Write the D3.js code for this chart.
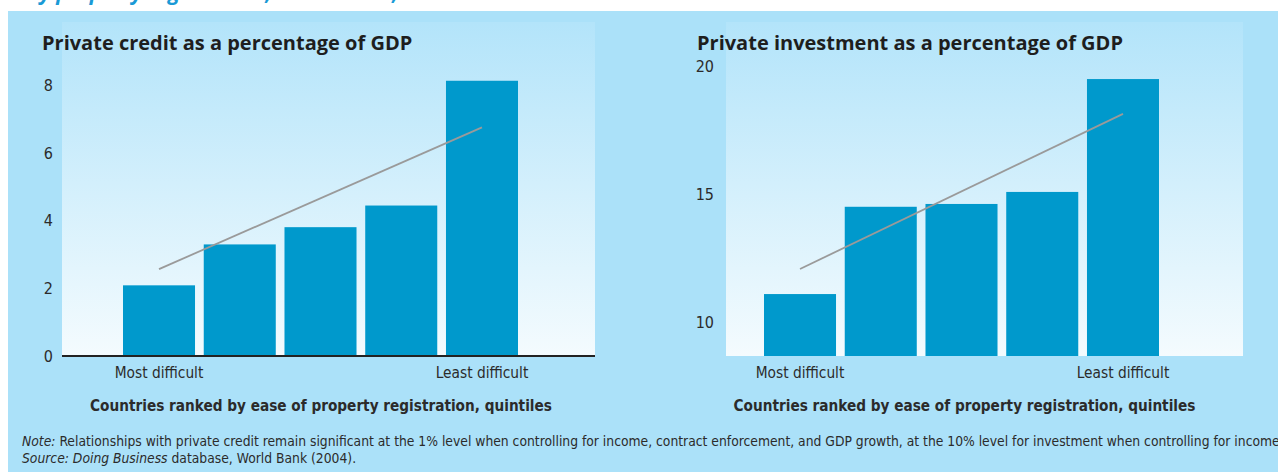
<!DOCTYPE html>
<html><head><meta charset="utf-8">
<script src="https://cdn.jsdelivr.net/npm/d3@7"></script>
<style>
html,body{margin:0;padding:0;background:#fff;}
svg{display:block;}
.lbl{font-family:"DejaVu Sans Condensed","DejaVu Sans";font-stretch:condensed;fill:#2b2b2b;}
.ttl{font-family:"Open Sans","Noto Sans";font-weight:700;fill:#1e1e1e;}
</style></head>
<body>
<script>
// ---- data ----
const quintiles = ["Q1","Q2","Q3","Q4","Q5"];
const quintileLabels = {Q1:"Most difficult", Q5:"Least difficult"};
const creditValues = [2.09, 3.30, 3.81, 4.45, 8.14];
const creditTrend = [2.57, 6.76];
const creditTicks = [0, 2, 4, 6, 8];
const investValues = [11.09, 14.50, 14.61, 15.08, 19.49];
const investTrend = [12.07, 18.13];
const investTicks = [10, 15, 20];
const investBase = 8.67;
const titles = ["Private credit as a percentage of GDP", "Private investment as a percentage of GDP"];
const xAxisTitle = "Countries ranked by ease of property registration, quintiles";
const figureTitle = "Easy property registration, more credit, more investment";

const W = 1278, H = 472;
const svg = d3.select("body").append("svg").attr("width", W).attr("height", H);
const defs = svg.append("defs");
const grad = defs.append("linearGradient").attr("id","pg").attr("x1",0).attr("y1",0).attr("x2",0).attr("y2",1);
grad.append("stop").attr("offset","0%").attr("stop-color","#b3e4fa");
grad.append("stop").attr("offset","100%").attr("stop-color","#f4fbfe");
defs.append("clipPath").attr("id","topclip").append("rect").attr("x",0).attr("y",0).attr("width",W).attr("height",11);

// cut-off figure title
svg.append("text").attr("clip-path","url(#topclip)")
  .attr("x", 6).attr("y", 0)
  .attr("font-family","Open Sans").attr("font-weight",700).attr("font-style","italic")
  .attr("font-size",21).attr("fill","#1a9ad6").text(figureTitle);

// background
svg.append("rect").attr("x",8).attr("y",11).attr("width",W-8).attr("height",H-11).attr("fill","#abe1f9");

function panel(cfg){
  const g = svg.append("g");
  g.append("rect").attr("x",cfg.px0).attr("y",22).attr("width",cfg.px1-cfg.px0).attr("height",356-22).attr("fill","url(#pg)");
  const x = d3.scaleBand().domain(quintiles).range(cfg.xr).paddingInner(0.108).paddingOuter(0);
  const y = d3.scaleLinear().domain(cfg.yd).range(cfg.yr);
  const base = cfg.yd[0];
  g.selectAll("rect.bar").data(cfg.values).join("rect").attr("class","bar")
    .attr("x",(d,i)=>x(quintiles[i])).attr("width",x.bandwidth())
    .attr("y",d=>y(d)).attr("height",d=>y(base)-y(d)).attr("fill","#0099cc");
  const trendPts = [[quintiles[0],cfg.trend[0]],[quintiles[4],cfg.trend[1]]];
  g.append("path").attr("d", d3.line().x(d=>x(d[0])+x.bandwidth()/2).y(d=>y(d[1]))(trendPts))
    .attr("stroke","#9a9a9a").attr("stroke-width",1.8).attr("fill","none");
  if(cfg.axisLine){
    g.append("line").attr("x1",cfg.px0).attr("x2",cfg.px1).attr("y1",y(base)).attr("y2",y(base))
      .attr("stroke","#222").attr("stroke-width",2.2);
  }
  const ya = g.append("g").attr("transform",`translate(${cfg.tickX},0)`)
    .call(d3.axisLeft(y).tickValues(cfg.ticks).tickSize(0).tickPadding(0).tickFormat(d3.format("d")));
  ya.select(".domain").remove();
  ya.selectAll("text").attr("class","lbl").attr("font-size",16).attr("font-family",null).attr("fill","#2b2b2b");
  const xa = g.append("g").attr("transform",`translate(0,${y(base)})`)
    .call(d3.axisBottom(x).tickSize(0).tickPadding(0).tickFormat(d=>quintileLabels[d]||""));
  xa.select(".domain").remove();
  xa.selectAll("text").attr("class","lbl").attr("font-size",15.3).attr("font-family",null).attr("dy",null).attr("y",22).attr("fill","#2b2b2b");
  g.append("text").attr("class","lbl").attr("x",(cfg.xr[0]+cfg.xr[1])/2 - cfg.titleShift).attr("y",411)
    .attr("text-anchor","middle").attr("font-size",15.2).attr("font-weight",700).attr("fill","#1e1e1e").text(xAxisTitle);
  g.append("text").attr("class","ttl").attr("x",cfg.titleX).attr("y",50).attr("font-size",20).text(cfg.title);
}

panel({px0:62, px1:595, xr:[123,518], yd:[0,8], yr:[356,85.5], values:creditValues, trend:creditTrend,
  ticks:creditTicks, tickX:53, axisLine:true, title:titles[0], titleX:42, titleShift:-0.5});
panel({px0:726, px1:1243, xr:[764,1159], yd:[investBase,20], yr:[356,66], values:investValues, trend:investTrend,
  ticks:investTicks, tickX:714, axisLine:false, title:titles[1], titleX:697, titleShift:-3});

// notes
const note = svg.append("text").attr("class","lbl").attr("x",22).attr("y",446).attr("font-size",13.75);
note.append("tspan").attr("font-style","italic").text("Note:");
note.append("tspan").text(" Relationships with private credit remain significant at the 1% level when controlling for income, contract enforcement, and GDP growth, at the 10% level for investment when controlling for income.");
const src = svg.append("text").attr("class","lbl").attr("x",22).attr("y",463).attr("font-size",13.75);
src.append("tspan").attr("font-style","italic").text("Source: Doing Business");
src.append("tspan").text(" database, World Bank (2004).");
</script>
</body></html>
